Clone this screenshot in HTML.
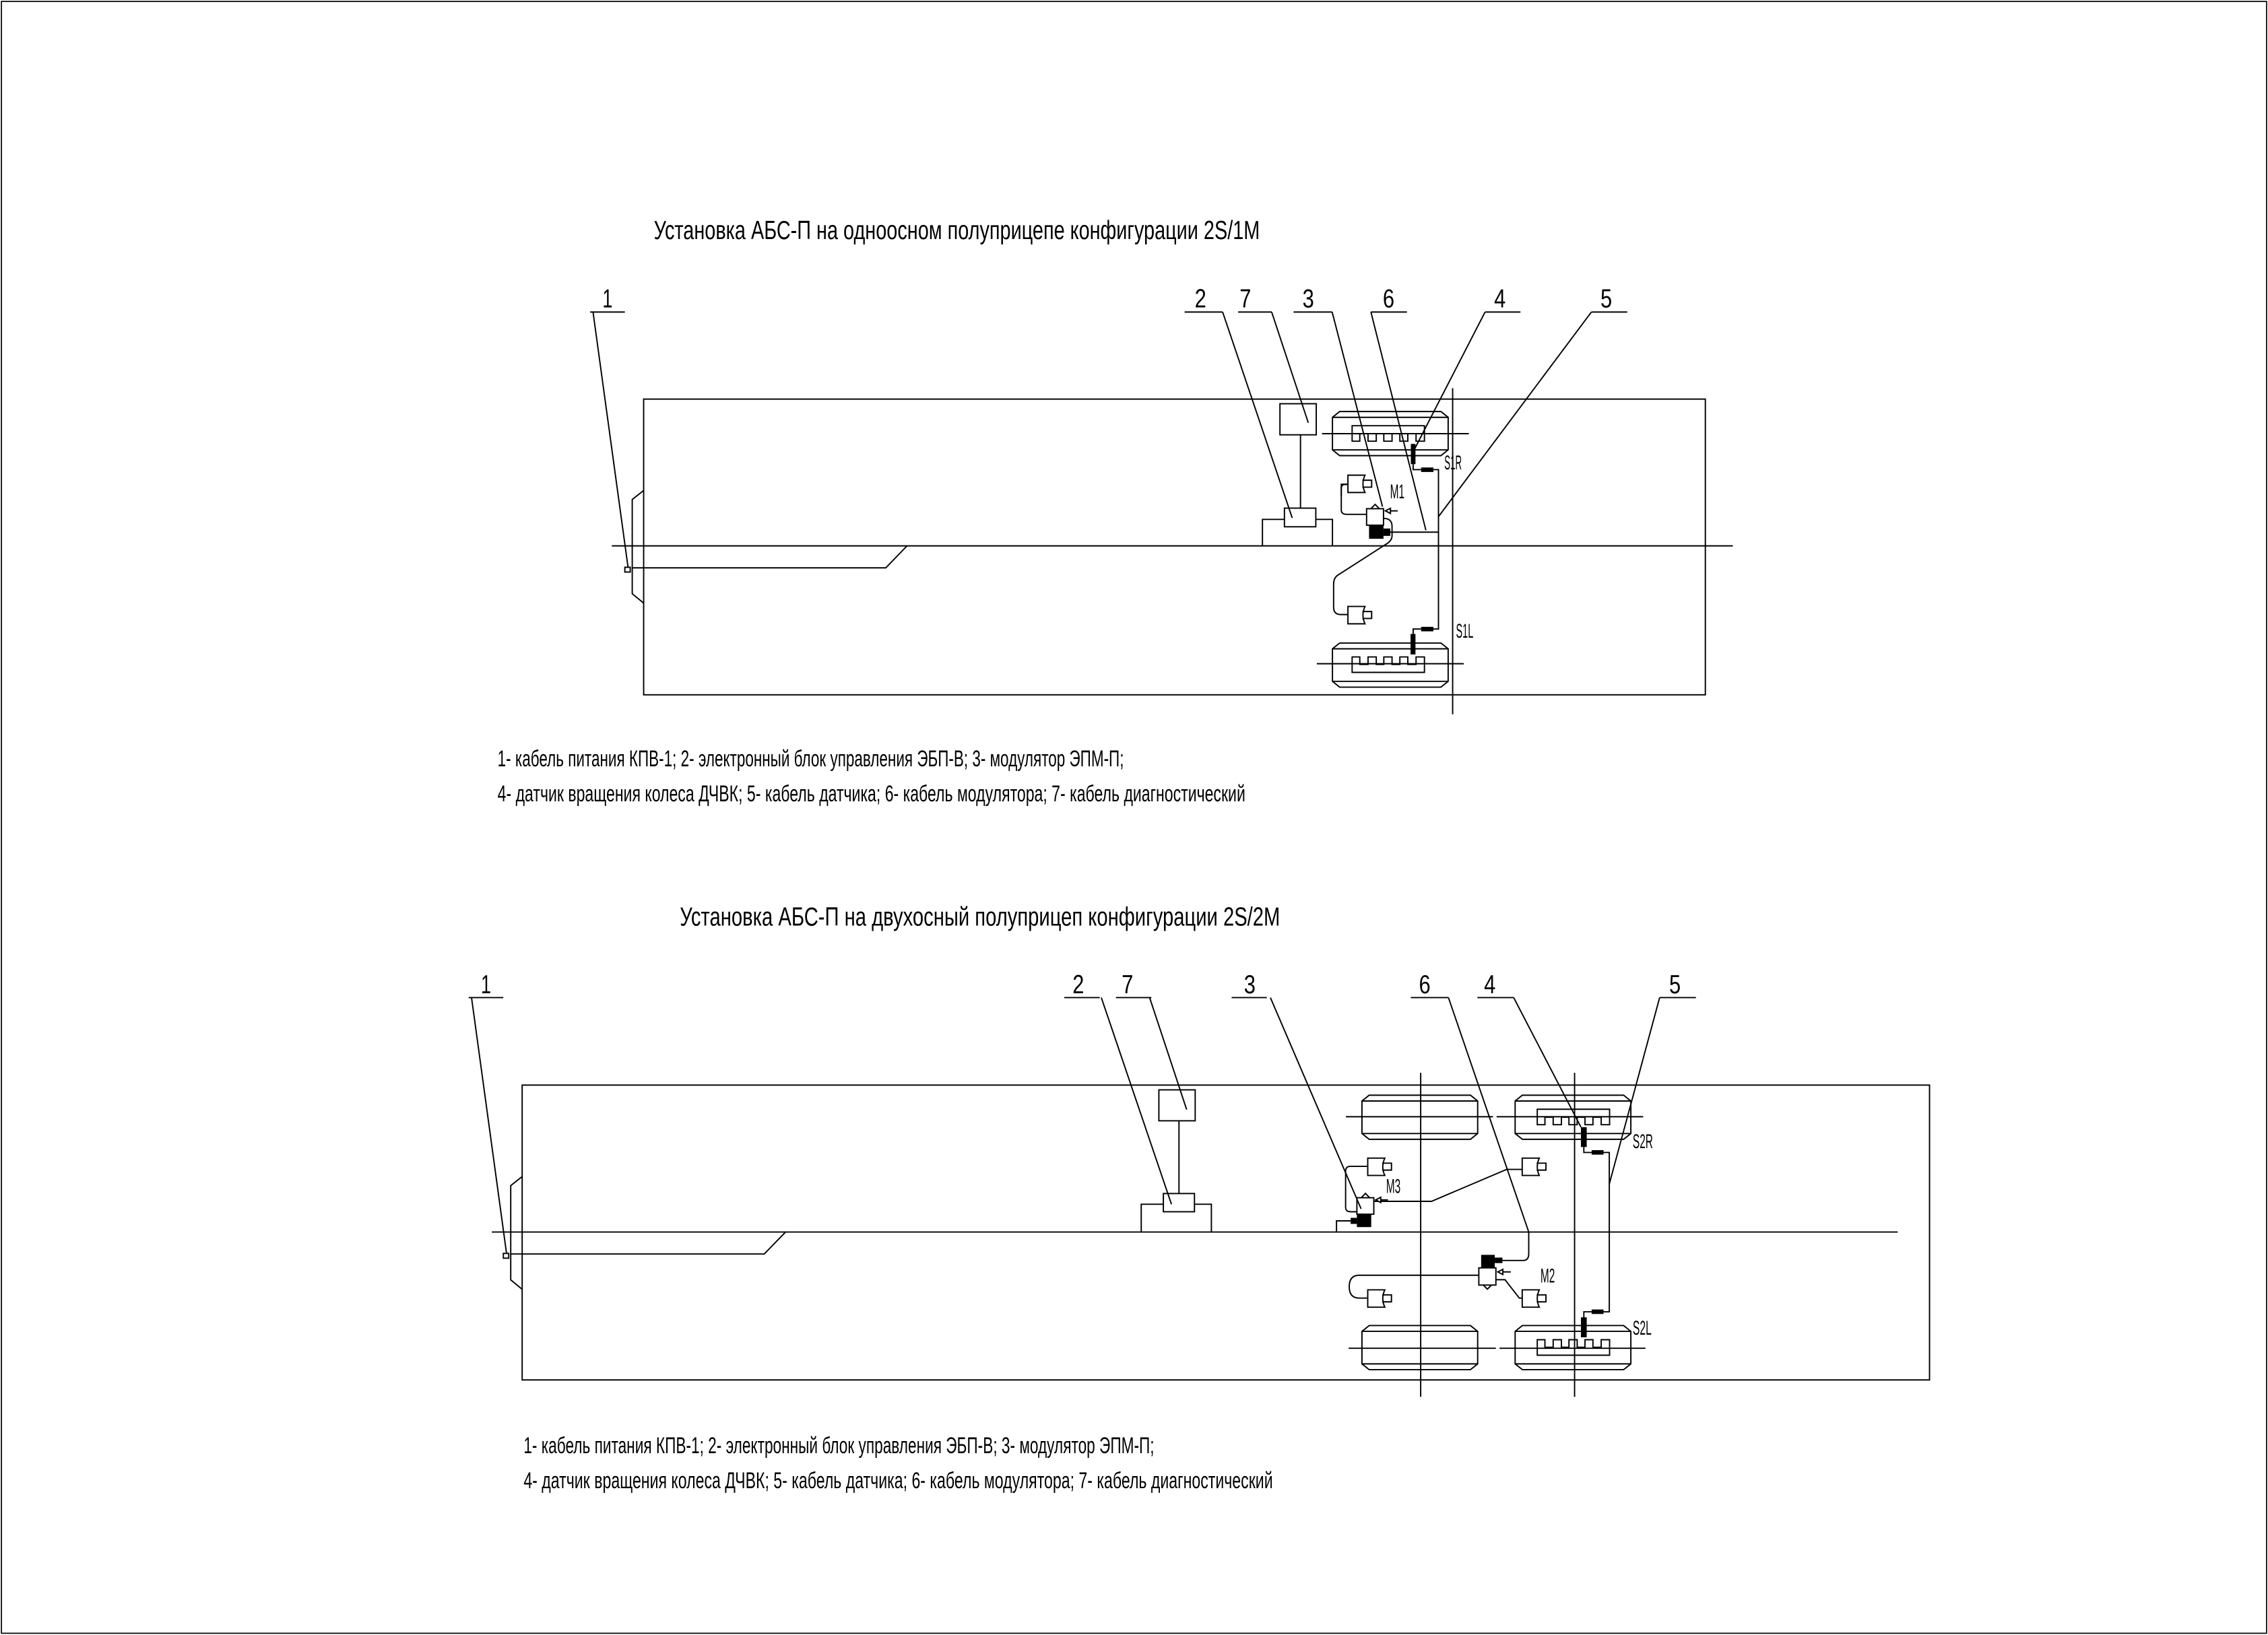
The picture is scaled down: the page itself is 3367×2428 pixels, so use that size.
<!DOCTYPE html>
<html><head><meta charset="utf-8"><style>
html,body{margin:0;padding:0;background:#fff}
svg{display:block}
text{font-family:"Liberation Sans",sans-serif;fill:#000}
</style></head><body>
<svg width="3367" height="2428" viewBox="0 0 1568 1130.7" preserveAspectRatio="none" xmlns="http://www.w3.org/2000/svg">
<defs>
<g id="wheel" fill="none" stroke="#000" stroke-width="0.9">
<polygon points="5,0 75,0 80,4 80,26.5 75,30.5 5,30.5 0,26.5 0,4"/>
<line x1="0" y1="4" x2="80" y2="4"/><line x1="0" y1="26.5" x2="80" y2="26.5"/>
</g>
<g id="ringT" fill="none" stroke="#000" stroke-width="0.9">
<path d="M0,5.5 V0 H50 V5.5"/>
<path d="M0,5.5 V10.7 H5.3 V5.5 H11 V10.7 H16.7 V5.5 H21.9 V10.7 H27.6 V5.5 H33 V10.7 H38.5 V5.5 H44.2 V10.7 H50 V5.5"/>
</g>
<g id="cham" fill="none" stroke="#000" stroke-width="0.9">
<path d="M0,0 H11.8 Q9,6 11.8,12 H0 Z"/>
<path d="M10,3.5 H16.4 V8.3 H10"/>
</g>
<g id="modU" stroke="#000" stroke-width="0.9">
<rect x="0" y="0" width="11.7" height="11.4" fill="none"/>
<polyline points="3,0 5.9,-3 8.8,0" fill="none"/>
<polygon points="13,1.5 16.5,-0.3 16.5,3.3" fill="#fff"/>
<line x1="16.5" y1="1.5" x2="21.5" y2="1.5"/>
</g>
</defs>
<rect x="1" y="1" width="1566" height="1128.5" fill="none" stroke="#000" stroke-width="0.8"/>

<!-- ================= TOP DIAGRAM ================= -->
<text x="452" y="165.3" font-size="18" textLength="419" lengthAdjust="spacingAndGlyphs">Установка АБС-П на одноосном полуприцепе конфигурации 2S/1M</text>
<g fill="none" stroke="#000" stroke-width="0.9">
<rect x="445" y="276" width="734" height="204.5"/>
<line x1="423" y1="377.5" x2="1198" y2="377.5"/>
<line x1="1004.3" y1="268.5" x2="1004.3" y2="494"/>
<polyline points="445,339.2 437.1,345.4 437.1,410.6 445,417.1"/>
<rect x="432" y="392.3" width="3.7" height="3.3"/>
<polyline points="437.1,392.7 612.4,392.7 627.1,377.5"/>
<!-- leaders -->
<line x1="408" y1="215.8" x2="432" y2="215.8"/><line x1="410" y1="215.8" x2="434.2" y2="392.3"/>
<line x1="819" y1="215.8" x2="845.3" y2="215.8"/><line x1="845.3" y1="215.8" x2="893.4" y2="358.2"/>
<line x1="856" y1="215.8" x2="879.2" y2="215.8"/><line x1="879.2" y1="215.8" x2="904.5" y2="292.4"/>
<line x1="894.3" y1="215.8" x2="921" y2="215.8"/><line x1="921" y1="215.8" x2="955.8" y2="350.4"/>
<line x1="947.8" y1="215.8" x2="972.7" y2="215.8"/><line x1="947.8" y1="215.8" x2="985.8" y2="366.7"/>
<line x1="1026.7" y1="215.8" x2="1051.2" y2="215.8"/><line x1="1026.7" y1="215.8" x2="978" y2="310.5"/>
<line x1="1100.2" y1="215.8" x2="1125" y2="215.8"/><line x1="1100.2" y1="215.8" x2="994.5" y2="357.3"/>
<!-- ECU -->
<rect x="884.9" y="279.2" width="25.1" height="21.5"/>
<line x1="899.1" y1="300.7" x2="899.1" y2="351.4"/>
<rect x="888" y="351.4" width="21.7" height="12.9"/>
<polyline points="888,359.2 872.8,359.2 872.8,377.5"/>
<polyline points="909.7,359.2 921.2,359.2 921.2,377.5"/>
<!-- axle lines -->
<line x1="914" y1="299.9" x2="1015.5" y2="299.9"/>
<line x1="910.4" y1="459" x2="1012" y2="459"/>
<!-- cables -->
<polyline points="927.3,343 927.3,334.9 931.9,334.9"/>
<path d="M931.9,335 H929.5 Q927.3,335 927.3,338 V352.5 Q927.3,355.7 931,355.7 H944.8"/>
<path d="M956.5,358.5 Q962.4,358.5 962.4,364 V370.5 Q962.4,374 958,376.5 L924.5,398 Q922,400 922,404 V420 Q922,425 927,425 H931.9"/>
<line x1="961.2" y1="368" x2="994.5" y2="368"/>
<polyline points="977,321 977,324.8 982.5,324.8"/>
<polyline points="991,324.8 994.5,324.8 994.5,435 991,435"/>
<polyline points="982.5,435 977,435 977,438.4"/>
</g>
<use href="#wheel" x="921.2" y="284.6"/>
<use href="#wheel" x="921.2" y="444.7"/>
<use href="#ringT" x="934.8" y="294.4"/>
<use href="#ringT" transform="translate(934.8,465) scale(1,-1)"/>
<use href="#cham" x="931.9" y="328.6"/>
<use href="#cham" x="931.9" y="419.4"/>
<use href="#modU" x="944.8" y="351.8"/>
<g fill="#000">
<rect x="975.4" y="307" width="3.2" height="14"/>
<rect x="982.5" y="323.3" width="8.5" height="3.1"/>
<rect x="982.5" y="433.5" width="8.5" height="3.1"/>
<rect x="975.2" y="438.4" width="3.4" height="14.2"/>
<rect x="946.5" y="363.2" width="10" height="9.4"/>
<rect x="956.5" y="365.5" width="4.7" height="5.1"/>
</g>
<g font-size="14">
<text x="998.6" y="324.5" textLength="12" lengthAdjust="spacingAndGlyphs">S1R</text>
<text x="1006.6" y="441" textLength="12" lengthAdjust="spacingAndGlyphs">S1L</text>
<text x="961" y="344.5" textLength="10" lengthAdjust="spacingAndGlyphs">M1</text>
</g>
<g font-size="18">
<text x="416.5" y="212.6" textLength="7" lengthAdjust="spacingAndGlyphs">1</text>
<text x="826" y="212.6" textLength="8" lengthAdjust="spacingAndGlyphs">2</text>
<text x="857" y="212.6" textLength="8" lengthAdjust="spacingAndGlyphs">7</text>
<text x="900.5" y="212.6" textLength="8" lengthAdjust="spacingAndGlyphs">3</text>
<text x="956" y="212.6" textLength="8" lengthAdjust="spacingAndGlyphs">6</text>
<text x="1033" y="212.6" textLength="8" lengthAdjust="spacingAndGlyphs">4</text>
<text x="1106.5" y="212.6" textLength="8" lengthAdjust="spacingAndGlyphs">5</text>
</g>
<g font-size="16">
<text x="344" y="530" textLength="433" lengthAdjust="spacingAndGlyphs">1- кабель питания КПВ-1; 2- электронный блок управления ЭБП-В; 3- модулятор ЭПМ-П;</text>
<text x="344" y="554.2" textLength="517" lengthAdjust="spacingAndGlyphs">4- датчик вращения колеса ДЧВК; 5- кабель датчика; 6- кабель модулятора; 7- кабель диагностический</text>
</g>

<!-- ================= BOTTOM DIAGRAM ================= -->
<text x="470" y="640" font-size="18" textLength="415" lengthAdjust="spacingAndGlyphs">Установка АБС-П на двухосный полуприцеп конфигурации 2S/2M</text>
<g fill="none" stroke="#000" stroke-width="0.9">
<rect x="361" y="750.4" width="973" height="203.9"/>
<line x1="340" y1="852" x2="1312" y2="852"/>
<line x1="982.2" y1="741.9" x2="982.2" y2="966"/>
<line x1="1088.6" y1="741.9" x2="1088.6" y2="966"/>
<polyline points="361,813.7 353.1,819.9 353.1,885.1 361,891.6"/>
<rect x="348" y="866.8" width="3.7" height="3.3"/>
<polyline points="353.1,867.2 528.4,867.2 543.1,852"/>
<!-- leaders -->
<line x1="324" y1="689.9" x2="348" y2="689.9"/><line x1="326" y1="689.9" x2="350.2" y2="866.8"/>
<line x1="735.8" y1="689.9" x2="760.3" y2="689.9"/><line x1="761.4" y1="689.9" x2="809.9" y2="832.8"/>
<line x1="771.5" y1="689.9" x2="796" y2="689.9"/><line x1="794.8" y1="689.9" x2="820.4" y2="767.3"/>
<line x1="851.5" y1="689.9" x2="875.8" y2="689.9"/><line x1="878.3" y1="689.9" x2="941" y2="836"/>
<line x1="975.4" y1="689.9" x2="1001.4" y2="689.9"/><line x1="1001.4" y1="689.9" x2="1056.9" y2="852"/>
<line x1="1021.4" y1="689.9" x2="1046.5" y2="689.9"/><line x1="1046.5" y1="689.9" x2="1093" y2="779.5"/>
<line x1="1147.4" y1="689.9" x2="1172.5" y2="689.9"/><line x1="1147.4" y1="689.9" x2="1112.6" y2="818.8"/>
<!-- ECU -->
<rect x="801.2" y="753.7" width="25.1" height="21.4"/>
<line x1="815.1" y1="775.1" x2="815.1" y2="825.4"/>
<rect x="804.3" y="825.4" width="21.5" height="12.6"/>
<polyline points="804.3,832.8 789,832.8 789,852"/>
<polyline points="825.8,832.8 837.5,832.8 837.5,852"/>
<!-- axle lines -->
<line x1="930.5" y1="772.3" x2="1032.2" y2="772.3"/>
<line x1="1034.7" y1="772.3" x2="1136" y2="772.3"/>
<line x1="932.4" y1="932.4" x2="1034.2" y2="932.4"/>
<line x1="1036.7" y1="932.4" x2="1137.6" y2="932.4"/>
<!-- cables -->
<path d="M945.6,806.6 H933.5 Q930.3,806.6 930.3,810 V835 Q930.3,838 934,838 H938.1"/>
<polyline points="949.5,830.8 989.7,830.8 1041.6,808.7 1052.4,808.7"/>
<polyline points="933.8,844.3 924,844.3 924,852"/>
<path d="M1038.7,871.7 H1053 Q1056.9,871.7 1056.9,867 V852"/>
<path d="M1022.4,881.9 H939.7 Q932.8,881.9 932.8,889.8 Q932.8,897.7 939.7,897.7 H945.6"/>
<polyline points="1034.2,885 1040.5,885 1050.4,897.7 1052.4,897.7"/>
<polyline points="1095,793.2 1095,797 1100.4,797"/>
<polyline points="1108.6,797 1112.6,797 1112.6,907.2 1108.6,907.2"/>
<polyline points="1100.4,907.2 1095,907.2 1095,911"/>
</g>
<use href="#wheel" x="941.6" y="757.4"/>
<use href="#wheel" x="1047.5" y="757.4"/>
<use href="#wheel" x="941.6" y="916.7"/>
<use href="#wheel" x="1047.5" y="916.7"/>
<use href="#ringT" x="1062.8" y="767.1"/>
<use href="#ringT" transform="translate(1062.8,937.2) scale(1,-1)"/>
<use href="#cham" x="945.6" y="800.9"/>
<use href="#cham" x="1052.4" y="800.9"/>
<use href="#cham" x="945.6" y="892"/>
<use href="#cham" x="1052.4" y="892"/>
<use href="#modU" x="938.1" y="828.3"/>
<g stroke="#000" stroke-width="0.9">
<rect x="1022.4" y="876.8" width="11.8" height="11.9" fill="none"/>
<polyline points="1025.4,888.7 1028.3,891.5 1031.2,888.7" fill="none"/>
<polygon points="1035.5,879.6 1039,877.8 1039,881.4" fill="#fff"/>
<line x1="1039" y1="879.6" x2="1044.5" y2="879.6"/>
</g>
<g fill="#000">
<rect x="1093" y="779.5" width="4" height="13.7"/>
<rect x="1100.4" y="795.4" width="8.2" height="3.1"/>
<rect x="1100.4" y="905.6" width="8.2" height="3.1"/>
<rect x="1093" y="911" width="4" height="13.8"/>
<rect x="938.1" y="839.7" width="9.9" height="8.9"/>
<rect x="933.8" y="842.2" width="4.3" height="4.2"/>
<rect x="1024" y="867.8" width="9.4" height="9"/>
<rect x="1033.4" y="869.7" width="5.3" height="3.8"/>
</g>
<g font-size="14">
<text x="1128.8" y="794" textLength="14" lengthAdjust="spacingAndGlyphs">S2R</text>
<text x="1128.8" y="923" textLength="13" lengthAdjust="spacingAndGlyphs">S2L</text>
<text x="958.3" y="825" textLength="10" lengthAdjust="spacingAndGlyphs">M3</text>
<text x="1065" y="887" textLength="10" lengthAdjust="spacingAndGlyphs">M2</text>
</g>
<g font-size="18">
<text x="332.5" y="687" textLength="7" lengthAdjust="spacingAndGlyphs">1</text>
<text x="741.5" y="687" textLength="8" lengthAdjust="spacingAndGlyphs">2</text>
<text x="775.5" y="687" textLength="8" lengthAdjust="spacingAndGlyphs">7</text>
<text x="860" y="687" textLength="8" lengthAdjust="spacingAndGlyphs">3</text>
<text x="981" y="687" textLength="8" lengthAdjust="spacingAndGlyphs">6</text>
<text x="1026" y="687" textLength="8" lengthAdjust="spacingAndGlyphs">4</text>
<text x="1154" y="687" textLength="8" lengthAdjust="spacingAndGlyphs">5</text>
</g>
<g font-size="16">
<text x="362" y="1005" textLength="436" lengthAdjust="spacingAndGlyphs">1- кабель питания КПВ-1; 2- электронный блок управления ЭБП-В; 3- модулятор ЭПМ-П;</text>
<text x="362" y="1029.2" textLength="518" lengthAdjust="spacingAndGlyphs">4- датчик вращения колеса ДЧВК; 5- кабель датчика; 6- кабель модулятора; 7- кабель диагностический</text>
</g>
</svg>
</body></html>
